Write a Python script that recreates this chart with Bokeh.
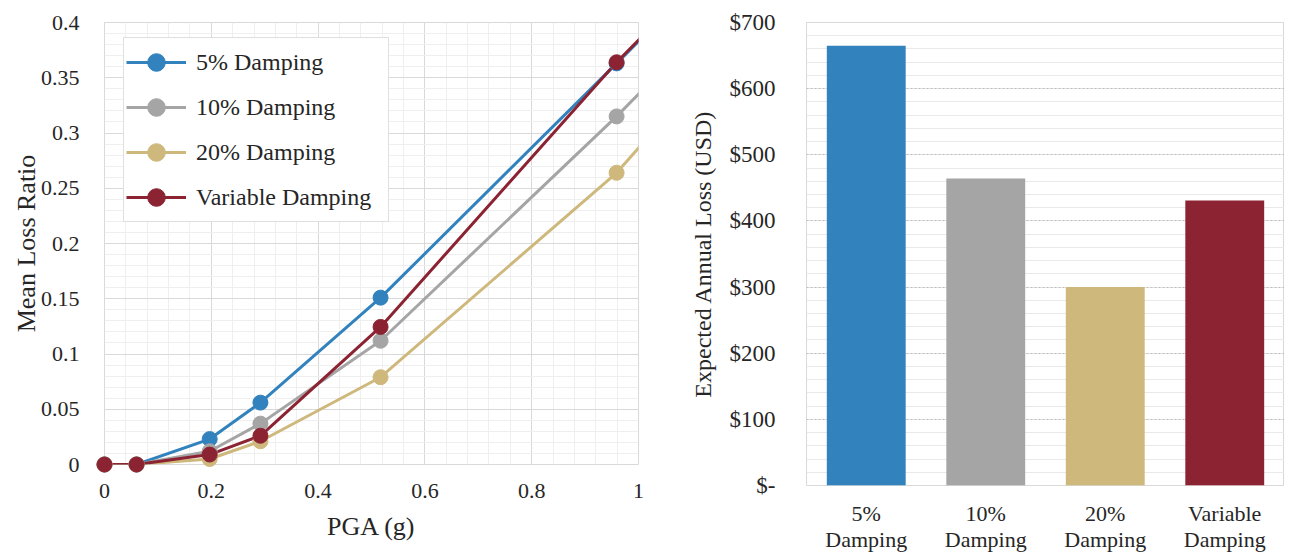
from bokeh.plotting import figure
from bokeh.layouts import row
from bokeh.models import (ColumnDataSource, SingleIntervalTicker, CustomJSTickFormatter,
                          Legend, LegendItem, Range1d, FactorRange, CDSView, IndexFilter, Spacer)
from bokeh.embed import file_html
from bokeh.resources import INLINE

# ---------------- data ----------------
series_names = ["5% Damping", "10% Damping", "20% Damping", "Variable Damping"]
pga = [0.0, 0.06, 0.197, 0.292, 0.517, 0.959, 1.2]
mlr_5 = [0.0, 0.0, 0.023, 0.056, 0.151, 0.363, 0.480]
mlr_10 = [0.0, 0.0, 0.012, 0.037, 0.112, 0.315, 0.433]
mlr_20 = [0.0, 0.0, 0.005, 0.021, 0.079, 0.264, 0.396]
mlr_var = [0.0, 0.0, 0.009, 0.026, 0.1245, 0.364, 0.482]

bar_categories = ["5%\nDamping", "10%\nDamping", "20%\nDamping", "Variable\nDamping"]
eal_usd = [665, 464, 300, 431]

colors = ["#3182BD", "#A5A5A5", "#CFB87C", "#8B2332"]
FONT = "'Liberation Serif', 'Times New Roman', serif"
TXT = "#262626"

# ---------------- left: mean loss ratio ----------------
src = ColumnDataSource(dict(pga=pga, s5=mlr_5, s10=mlr_10, s20=mlr_20, svar=mlr_var))
in_range = [i for i, x in enumerate(pga) if x <= 1.0]

p1 = figure(width=638, height=546, frame_width=534, frame_height=442,
            x_range=Range1d(0, 1), y_range=Range1d(0, 0.4),
            output_backend="svg", toolbar_location=None,
            min_border_left=97, min_border_right=7, min_border_top=22, min_border_bottom=82)

items = []
for col, name, c in zip(["s5", "s10", "s20", "svar"], series_names, colors):
    ln = p1.line(x="pga", y=col, source=src, line_width=3, line_color=c)
    sc = p1.scatter(x="pga", y=col, source=src, view=CDSView(filter=IndexFilter(in_range)),
                    size=15, fill_color=c, line_color=c, level="overlay")
    items.append(LegendItem(label=name, renderers=[ln, sc]))

leg = Legend(items=items, location=(19, 242), glyph_width=60, glyph_height=44,
             label_height=44, spacing=1, padding=2, label_standoff=10, label_width=190,
             label_text_font=FONT, label_text_font_size="24px", label_text_color=TXT,
             border_line_color="#bfbfbf", border_line_width=1, background_fill_alpha=1)
p1.add_layout(leg)

fmt_num = CustomJSTickFormatter(code="return String(Number(tick.toFixed(2)));")
p1.xaxis.ticker = SingleIntervalTicker(interval=0.2, num_minor_ticks=5)
p1.yaxis.ticker = SingleIntervalTicker(interval=0.05, num_minor_ticks=5)
p1.xaxis.formatter = fmt_num
p1.yaxis.formatter = fmt_num
p1.xaxis.axis_label = "PGA (g)"
p1.yaxis.axis_label = "Mean Loss Ratio"
p1.xaxis.major_label_standoff = 15
p1.yaxis.major_label_standoff = 21
p1.xaxis.axis_label_standoff = 11
p1.yaxis.axis_label_standoff = -3

for ax in (p1.xaxis, p1.yaxis):
    ax.axis_line_color = None
    ax.major_tick_line_color = None
    ax.minor_tick_line_color = None
    ax.major_tick_out = 0
    ax.major_label_text_font = FONT
    ax.major_label_text_font_size = "22px"
    ax.major_label_text_color = TXT
    ax.axis_label_text_font = FONT
    ax.axis_label_text_font_size = "26px"
    ax.axis_label_text_font_style = "normal"
    ax.axis_label_text_color = TXT

for g in (p1.xgrid, p1.ygrid):
    g.grid_line_color = "#d9d9d9"
    g.minor_grid_line_color = "#efefef"
p1.outline_line_color = "#d9d9d9"

# ---------------- right: expected annual loss ----------------
bsrc = ColumnDataSource(dict(cat=bar_categories, eal=eal_usd, color=colors))
p2 = figure(width=639, height=546, frame_width=478, frame_height=463,
            x_range=FactorRange(*bar_categories), y_range=Range1d(0, 700),
            output_backend="svg", toolbar_location=None,
            min_border_left=161, min_border_right=0, min_border_top=22, min_border_bottom=61)
p2.vbar(x="cat", top="eal", width=0.66, source=bsrc, fill_color="color", line_color=None)

p2.yaxis.ticker = SingleIntervalTicker(interval=100, num_minor_ticks=5)
p2.yaxis.formatter = CustomJSTickFormatter(
    code="return tick == 0 ? '$-' : '$' + tick.toFixed(0);")
p2.yaxis.axis_label = "Expected Annual Loss (USD)"
p2.yaxis.major_label_standoff = 27
p2.yaxis.axis_label_standoff = 11
p2.xaxis.major_label_standoff = 15

for ax in (p2.xaxis, p2.yaxis):
    ax.axis_line_color = None
    ax.major_tick_line_color = None
    ax.minor_tick_line_color = None
    ax.major_tick_out = 0
    ax.major_label_text_font = FONT
    ax.major_label_text_font_size = "22px"
    ax.major_label_text_color = TXT
    ax.axis_label_text_font = FONT
    ax.axis_label_text_font_size = "24px"
    ax.axis_label_text_font_style = "normal"
    ax.axis_label_text_color = TXT
p2.yaxis.major_label_text_font_size = "23px"
p2.xaxis.major_label_text_line_height = 1.05

p2.xgrid.grid_line_color = None
p2.ygrid.grid_line_color = "#bfbfbf"
p2.ygrid.grid_line_dash = "2 2"
p2.ygrid.minor_grid_line_color = "#e9e9e9"
p2.outline_line_color = "#d9d9d9"

layout = row(Spacer(width=7, height=10), p1, p2)
open("out.html", "w").write(file_html(layout, INLINE))
